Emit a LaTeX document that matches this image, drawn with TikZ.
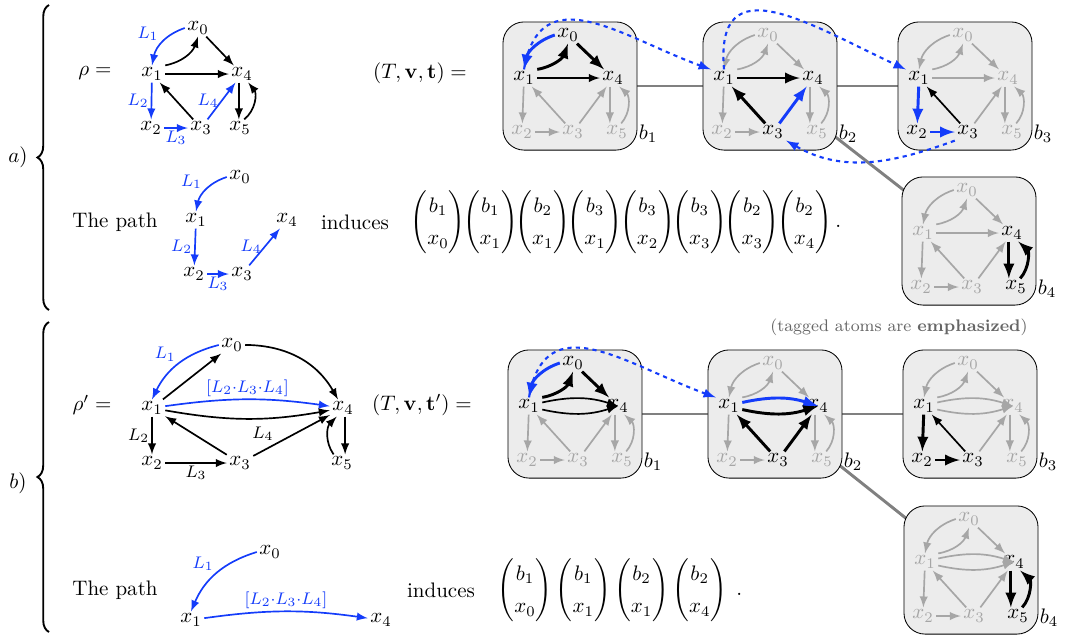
\documentclass[tikz,border=0pt]{standalone}
\usepackage{amsmath,amssymb}
\usetikzlibrary{arrows,positioning,calc,backgrounds,decorations.pathreplacing}

\definecolor{pathblue}{RGB}{20,60,250}

% one bag of the tree decomposition, drawn as a small copy of the graph
\newcommand\bagcore[1]{%
  \node[bagbox] (-box) at (0,0) {};
  \node (-name) at (78,48) {$#1$};
  \node[vtx,n0] (-x0) at (-2,-51) {$x_0$};
  \node[vtx,n1] (-x1) at (-46,-8) {$x_1$};
  \node[vtx,n4] (-x4) at (43,-8) {$x_4$};
  \node[vtx,n2] (-x2) at (-48,46) {$x_2$};
  \node[vtx,n3] (-x3) at (3,46) {$x_3$};
  \node[vtx,n5] (-x5) at (47,46) {$x_5$};
  \draw[e01] (-x0.west) to[bend right=30] (-x1.north);
  \draw[e10] (-x1.north east) to[bend right=30] (-x0.south);
  \draw[e04] (-x0) -- (-x4);
  \draw[e12] (-x1) -- (-x2);
  \draw[e23] (-x2) -- (-x3);
  \draw[e31] (-x3) -- (-x1);
  \draw[e34] (-x3) -- (-x4);
  \draw[e45] ([xshift=-1.5pt]-x4.south) -- ([xshift=-1.5pt]-x4.south |- -x5.north);
  \draw[e54] ([xshift=2pt]-x5.north) to[bend right=45] ([xshift=3pt]-x4.south);
}

\tikzset{
  vtx/.style={inner sep=1pt},
  lbl/.style={font=\footnotesize, inner sep=1pt},
  lit/.style={text=black},
  dim/.style={text=gray!70},
  faint/.style={-latex, gray!70, thick},
  plain/.style={-latex, black, thick},
  bluearc/.style={-latex, pathblue, thick},
  tagged/.style={-latex, black, line width=1.4pt},
  tagpath/.style={-latex, pathblue, line width=1.4pt},
  hop/.style={-latex, pathblue, line width=1pt, dash pattern=on 2pt off 2pt},
  bagbox/.style={draw, rounded corners=10pt, fill=gray!15, minimum width=63.8pt, minimum height=61pt, inner sep=0pt},
  treeedge/.style={gray, line width=1.4pt},
  bigbrace/.style={decorate, decoration={brace, amplitude=5.5pt}, line width=0.9pt},
  n0/.style=dim, n1/.style=dim, n2/.style=dim, n3/.style=dim, n4/.style=dim, n5/.style=dim,
  e01/.style=faint, e10/.style=faint, e04/.style=faint, e14/.style=faint,
  e14u/.style=faint, e14d/.style=faint, e12/.style=faint, e23/.style=faint,
  e31/.style=faint, e34/.style=faint, e45/.style=faint, e54/.style=faint,
  pics/bagA/.style={code={\bagcore{#1}
      \draw[e14] (-x1) -- (-x4);}},
  pics/bagB/.style={code={\bagcore{#1}
      \draw[e14u] (-x1) to[bend left=15] (-x4);
      \draw[e14d] (-x1) to[bend right=15] (-x4);}},
}

\begin{document}
\begin{tikzpicture}[x=0.476pt, y=-0.476pt]
  \useasboundingbox (0,0) rectangle (1067,639);

  %%% a)
  \draw[bigbrace] (49,310) -- (49,5);
  \node (taga) at (18,157) {$a)$};

  \node (rho) at (95,73) {$\rho =$};
  \node[vtx] (r0) at (198,28) {$x_0$};
  \node[vtx] (r1) at (152,74) {$x_1$};
  \node[vtx] (r4) at (242,74) {$x_4$};
  \node[vtx] (r2) at (151,128) {$x_2$};
  \node[vtx] (r3) at (201,128) {$x_3$};
  \node[vtx] (r5) at (240,128) {$x_5$};
  \draw[bluearc] (r0.west) to[bend right=30] node[lbl, above left, pos=.55] {$L_1$} (r1.north);
  \draw[plain] (r1.north east) to[bend right=30] (r0.south);
  \draw[plain] (r0) -- (r4);
  \draw[plain] (r1) -- (r4);
  \draw[bluearc] (r1) -- node[lbl, left] {$L_2$} (r2);
  \draw[bluearc] (r2) -- node[lbl, below] {$L_3$} (r3);
  \draw[plain] (r3) -- (r1);
  \draw[bluearc] (r3) -- node[lbl, left] {$L_4$} (r4);
  \draw[plain] ([xshift=-1.5pt]r4.south) -- ([xshift=-1.5pt]r4.south |- r5.north);
  \draw[plain] ([xshift=2pt]r5.north) to[bend right=45] ([xshift=3pt]r4.south);

  \node (tvt) at (420,73) {$(T,\mathbf{v},\mathbf{t}) =$};

  \pic[n0/.style=lit, n1/.style=lit, n4/.style=lit, e01/.style=tagpath,
       e10/.style=tagged, e04/.style=tagged, e14/.style=plain] (a1) at (570,86) {bagA=b_1};
  \pic[n1/.style=lit, n3/.style=lit, n4/.style=lit, e14/.style=tagged,
       e31/.style=tagged, e34/.style=tagpath] (a2) at (770,86) {bagA=b_2};
  \pic[n1/.style=lit, n2/.style=lit, n3/.style=lit, e12/.style=tagpath,
       e23/.style=tagpath, e31/.style=plain] (a3) at (965,86) {bagA=b_3};
  \pic[n4/.style=lit, n5/.style=lit, e45/.style=tagged, e54/.style=tagged] (a4) at (969,241) {bagA=b_4};

  \begin{scope}[on background layer]
    \draw[treeedge] (a1-box.center) -- (a2-box.center);
    \draw[treeedge] (a2-box.center) -- (a3-box.center);
    \draw[treeedge] (a2-box.center) -- (a4-box.center);
  \end{scope}

  \draw[hop] (a1-x1.north) to[out=80, in=160, looseness=1.3] (a2-x1.north west);
  \draw[hop] (a2-x1.north) to[out=95, in=155, looseness=1.5] (a3-x1.north west);
  \draw[hop] (a3-x3.south west) to[out=200, in=-30] (a2-x3.south east);

  \node (patha) at (115,222) {The path};
  \node[vtx] (p0) at (240,177) {$x_0$};
  \node[vtx] (p1) at (196,220) {$x_1$};
  \node[vtx] (p4) at (287,220) {$x_4$};
  \node[vtx] (p2) at (194,274) {$x_2$};
  \node[vtx] (p3) at (242,274) {$x_3$};
  \draw[bluearc] (p0.west) to[bend right=30] node[lbl, above left, pos=.55] {$L_1$} (p1.north);
  \draw[bluearc] (p1) -- node[lbl, left] {$L_2$} (p2);
  \draw[bluearc] (p2) -- node[lbl, below] {$L_3$} (p3);
  \draw[bluearc] (p3) -- node[lbl, left] {$L_4$} (p4);

  \node (inda) at (355,222) {induces};
  \node (tupa) at (626,222) {$\def\arraystretch{1.3}
    \begin{pmatrix}b_1\\x_0\end{pmatrix}\mkern-5mu\begin{pmatrix}b_1\\x_1\end{pmatrix}\mkern-5mu
    \begin{pmatrix}b_2\\x_1\end{pmatrix}\mkern-5mu\begin{pmatrix}b_3\\x_1\end{pmatrix}\mkern-5mu
    \begin{pmatrix}b_3\\x_2\end{pmatrix}\mkern-5mu\begin{pmatrix}b_3\\x_3\end{pmatrix}\mkern-5mu
    \begin{pmatrix}b_2\\x_3\end{pmatrix}\mkern-5mu\begin{pmatrix}b_2\\x_4\end{pmatrix}.$};

  \node[anchor=east, font=\footnotesize, text=black!60] (note) at (1035,327)
    {(tagged atoms are \textbf{emphasized})};

  %%% b)
  \draw[bigbrace] (49,632) -- (49,322);
  \node (tagb) at (18,483) {$b)$};

  \node (rhop) at (92,405) {$\rho' =$};
  \node[vtx] (q0) at (232,345) {$x_0$};
  \node[vtx] (q1) at (152,408) {$x_1$};
  \node[vtx] (q4) at (343,408) {$x_4$};
  \node[vtx] (q2) at (152,463) {$x_2$};
  \node[vtx] (q3) at (240,463) {$x_3$};
  \node[vtx] (q5) at (342,463) {$x_5$};
  \draw[bluearc] (q0.west) to[bend right=25] node[lbl, above left] {$L_1$} (q1.north);
  \draw[plain] (q1) -- (q0);
  \draw[plain] (q0) to[bend left=30] (q4);
  \draw[bluearc] (q1) to[bend left=8] node[lbl, above] {$[L_2{\cdot}L_3{\cdot}L_4]$} (q4);
  \draw[plain] (q1) to[bend right=10] (q4);
  \draw[plain] (q1) -- node[lbl, left] {$L_2$} (q2);
  \draw[plain] (q2) -- node[lbl, below] {$L_3$} (q3);
  \draw[plain] (q3) -- (q1);
  \draw[plain] (q3) -- node[lbl, above left, pos=.3] {$L_4$} (q4);
  \draw[plain] ([xshift=1pt]q4.south) -- ([xshift=1pt]q4.south |- q5.north);
  \draw[plain] ([xshift=-4pt]q5.north) to[bend left=40] ([xshift=-3pt]q4.south);

  \node (tvtp) at (422,405) {$(T,\mathbf{v},\mathbf{t}') =$};

  \pic[n0/.style=lit, n1/.style=lit, n4/.style=lit, e01/.style=tagpath,
       e10/.style=tagged, e04/.style=tagged, e14u/.style=plain, e14d/.style=plain] (b1) at (575,414) {bagB=b_1};
  \pic[n1/.style=lit, n3/.style=lit, n4/.style=lit, e14u/.style=tagpath,
       e14d/.style=tagged, e31/.style=tagged, e34/.style=tagged] (b2) at (775,414) {bagB=b_2};
  \pic[n1/.style=lit, n2/.style=lit, n3/.style=lit, e12/.style=tagged,
       e23/.style=tagged, e31/.style=plain] (b3) at (970,414) {bagB=b_3};
  \pic[n4/.style=lit, n5/.style=lit, e45/.style=tagged, e54/.style=tagged] (b4) at (971,570) {bagB=b_4};

  \begin{scope}[on background layer]
    \draw[treeedge] (b1-box.center) -- (b2-box.center);
    \draw[treeedge] (b2-box.center) -- (b3-box.center);
    \draw[treeedge] (b2-box.center) -- (b4-box.center);
  \end{scope}

  \draw[hop] (b1-x1.north) to[out=80, in=160, looseness=1.3] (b2-x1.north west);

  \node (pathb) at (115,590) {The path};
  \node[vtx] (s0) at (270,552) {$x_0$};
  \node[vtx] (s1) at (191,620) {$x_1$};
  \node[vtx] (s4) at (381,620) {$x_4$};
  \draw[bluearc] (s0.west) to[bend right=25] node[lbl, above left] {$L_1$} (s1.north);
  \draw[bluearc] (s1) to[bend left=8] node[lbl, above] {$[L_2{\cdot}L_3{\cdot}L_4]$} (s4);

  \node (indb) at (441,590) {induces};
  \node (tupb) at (620,590) {$\def\arraystretch{1.3}
    \begin{pmatrix}b_1\\x_0\end{pmatrix}\begin{pmatrix}b_1\\x_1\end{pmatrix}
    \begin{pmatrix}b_2\\x_1\end{pmatrix}\begin{pmatrix}b_2\\x_4\end{pmatrix}\;.$};
\end{tikzpicture}
\end{document}
